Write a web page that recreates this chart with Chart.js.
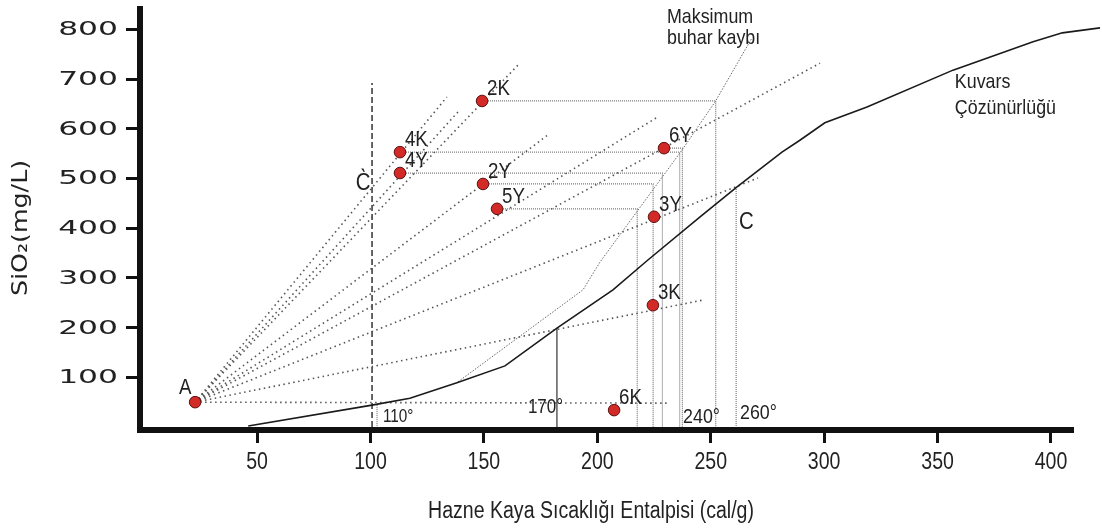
<!DOCTYPE html>
<html>
<head>
<meta charset="utf-8">
<script src="https://cdn.jsdelivr.net/npm/chart.js@4.4.1/dist/chart.umd.min.js"></script>
<style>
  html, body { margin: 0; padding: 0; background: #fff; }
</style>
</head>
<body>
<canvas id="silica" width="1102" height="532"></canvas>
<script>
// örnekler (entalpi cal/g, SiO2 mg/L)
const sampleNames = ['A', '2K', '4K', '4Y', '2Y', '5Y', '6Y', '3Y', '3K', '6K'];
const sampleH = [22.7, 149.2, 113.0, 113.0, 149.6, 155.8, 229.4, 225.0, 224.5, 207.4];
const sampleSiO2 = [50, 656, 553, 511, 489, 439, 561, 423, 245, 34];

// kuvars çözünürlüğü eğrisi
const quartzH = [46.1, 100.7, 117.4, 138.1, 159.3, 182.2, 206.9, 222.3, 245.3, 261.6, 281.4, 289.3, 300.3, 318.9, 356.8, 392.1, 405.0, 421.6];
const quartzSiO2 = [2, 44, 58, 89, 123, 199, 276, 336, 423, 483, 553, 577, 612, 644, 718, 775, 793, 803];

// maksimum buhar kaybı eğrisi
const steamLossH = [138.6, 193.7, 201.2, 237.3, 251.9, 268.2];
const steamLossSiO2 = [91, 276, 332, 557, 654, 783];

// A noktasından çıkan karışım doğruları (uç noktaları)
const mixNames = ['4K', '4Y', '2K', '2Y', '5Y', '6Y', '3Y', '3K', '6K'];
const mixEndH = [133.7, 138.6, 165.0, 178.3, 226.7, 298.2, 270.8, 246.1, 231.2];
const mixEndSiO2 = [664, 634, 728, 588, 624, 732, 501, 255, 48];

// buhar kaybı eğrisine izdüşümler
const steamNames = ['2K', '4K', '4Y', '2Y', '5Y', '6Y'];
const steamH = [252.2, 236.3, 228.7, 224.6, 217.6, 237.5];

// C ve C` doğruları, sıcaklık okumaları
const cPrimeH = 100.7, cPrimeTop = 692;
const tempH = [102.9, 182.2, 261.2];
const tempTop = [44, 199, 483];

const xTicks = [50, 100, 150, 200, 250, 300, 350, 400];
const yTicks = [100, 200, 300, 400, 500, 600, 700, 800];

const xTitle = 'Hazne Kaya Sıcaklığı Entalpisi (cal/g)';
const yTitle = 'SiO₂(mg/L)';

const notes = [
  { text: 'Maksimum', x: 230.7, y: 825 },
  { text: 'buhar kaybı', x: 230.7, y: 783 },
  { text: 'Kuvars', x: 357.6, y: 694 },
  { text: 'Çözünürlüğü', x: 357.6, y: 642 },
  { text: 'C', x: 262.5, y: 412, size: 24 },
  { text: 'C\u0300', x: 93.5, y: 491, size: 24 },
  { text: '110°', x: 105.5, y: 20, size: 18 },
  { text: '170°', x: 169.4, y: 40, size: 20 },
  { text: '240°', x: 237.8, y: 20, size: 21 },
  { text: '260°', x: 262.9, y: 28, size: 21 }
];

const sans = "'Liberation Sans', Arial, sans-serif";

const pt = (h, s) => ({ x: h, y: s });
const lineSet = (data, color, width, dash, extra) => Object.assign({
  data: data, showLine: true, pointRadius: 0, borderColor: color,
  borderWidth: width, borderDash: dash, fill: false, tension: 0, order: 2
}, extra || {});

const datasets = [];

datasets.push({
  label: 'Örnekler',
  data: sampleH.map((h, i) => pt(h, sampleSiO2[i])),
  pointRadius: 5.8, pointHoverRadius: 5.8,
  backgroundColor: '#d12a27', borderColor: '#5e1010', borderWidth: 1,
  order: 0
});

datasets.push(lineSet(quartzH.map((h, i) => pt(h, quartzSiO2[i])), '#1a1a1a', 1.6, [], { clip: false, order: 1 }));
datasets.push(lineSet(steamLossH.map((h, i) => pt(h, steamLossSiO2[i])), '#666', 1, [1.5, 1.5]));
datasets.push(lineSet([pt(cPrimeH, 0), pt(cPrimeH, cPrimeTop)], '#555', 1.8, [6, 3]));

mixNames.forEach((n, i) => {
  datasets.push(lineSet([pt(sampleH[0], sampleSiO2[0]), pt(mixEndH[i], mixEndSiO2[i])], '#555', 1.6, [1.5, 3.5]));
});

steamNames.forEach((n, i) => {
  const k = sampleNames.indexOf(n);
  datasets.push(lineSet([pt(sampleH[k], sampleSiO2[k]), pt(steamH[i], sampleSiO2[k]), pt(steamH[i], 0)], '#777', 1.2, [1, 1]));
});

tempH.forEach((h, i) => {
  const solid = i === 1;
  datasets.push(lineSet([pt(h, tempTop[i]), pt(h, 0)], solid ? '#333' : '#777', 1.2, solid ? [] : [1, 1]));
});

// dar yazı: Liberation Sans yatayda sıkıştırılır
function narrowText(ctx, text, px, py, size, align, sx) {
  ctx.save();
  ctx.translate(px, py);
  ctx.scale(sx || 0.85, 1);
  ctx.font = size + 'px ' + sans;
  ctx.textAlign = align;
  ctx.textBaseline = 'middle';
  ctx.fillText(text, 0, 0);
  ctx.restore();
}

const textPlugin = {
  id: 'texts',
  afterDraw(chart) {
    const { ctx, scales: { x, y } } = chart;
    ctx.save();
    ctx.fillStyle = '#222';

    // y tick labels (geniş yazı)
    ctx.font = '19px "DejaVu Sans"';
    ctx.textAlign = 'right';
    ctx.textBaseline = 'middle';
    yTicks.forEach(v => {
      ctx.save();
      ctx.translate(118, y.getPixelForValue(v));
      ctx.scale(1.65, 1);
      ctx.fillText(String(v), 0, 1);
      ctx.restore();
    });

    // x tick labels
    xTicks.forEach(v => narrowText(ctx, String(v), x.getPixelForValue(v), 463, 23, 'center'));

    // eksen başlıkları
    narrowText(ctx, xTitle, 591, 512, 23, 'center');
    ctx.save();
    ctx.translate(21, 228);
    ctx.rotate(-Math.PI / 2);
    ctx.scale(1.15, 1);
    ctx.textAlign = 'center';
    ctx.textBaseline = 'middle';
    ctx.font = '22px "DejaVu Sans"';
    ctx.fillText(yTitle, 0, 0);
    ctx.restore();

    // örnek etiketleri
    sampleNames.forEach((n, i) => {
      const px = x.getPixelForValue(sampleH[i]);
      const py = y.getPixelForValue(sampleSiO2[i]);
      if (n === 'A') narrowText(ctx, n, px - 10, py - 14, 22, 'center');
      else narrowText(ctx, n, px + 5, py - 12, 22, 'left');
    });

    // diğer yazılar
    notes.forEach(t => narrowText(ctx, t.text, x.getPixelForValue(t.x), y.getPixelForValue(t.y), t.size || 21, 'left'));
    ctx.restore();
  }
};

new Chart(document.getElementById('silica').getContext('2d'), {
  type: 'scatter',
  data: { datasets: datasets },
  options: {
    responsive: false,
    animation: false,
    events: [],
    layout: { padding: { top: 9, right: 29, left: 0, bottom: 0 } },
    plugins: { legend: { display: false }, tooltip: { enabled: false } },
    scales: {
      x: {
        type: 'linear', min: -1.6, max: 409.7,
        afterBuildTicks: s => { s.ticks = xTicks.map(v => ({ value: v })); },
        afterFit: s => { s.height = 102; },
        border: { display: true, width: 6, color: '#111' },
        grid: { drawOnChartArea: false, drawTicks: true, tickLength: 13, tickWidth: 3, tickColor: '#111' },
        ticks: { display: false }
      },
      y: {
        type: 'linear', min: -6, max: 841,
        afterBuildTicks: s => { s.ticks = yTicks.map(v => ({ value: v })); },
        afterFit: s => { s.width = 140; },
        border: { display: true, width: 6, color: '#111' },
        grid: { drawOnChartArea: false, drawTicks: true, tickLength: 14, tickWidth: 3, tickColor: '#111' },
        ticks: { display: false }
      }
    }
  },
  plugins: [textPlugin]
});
</script>
</body>
</html>
